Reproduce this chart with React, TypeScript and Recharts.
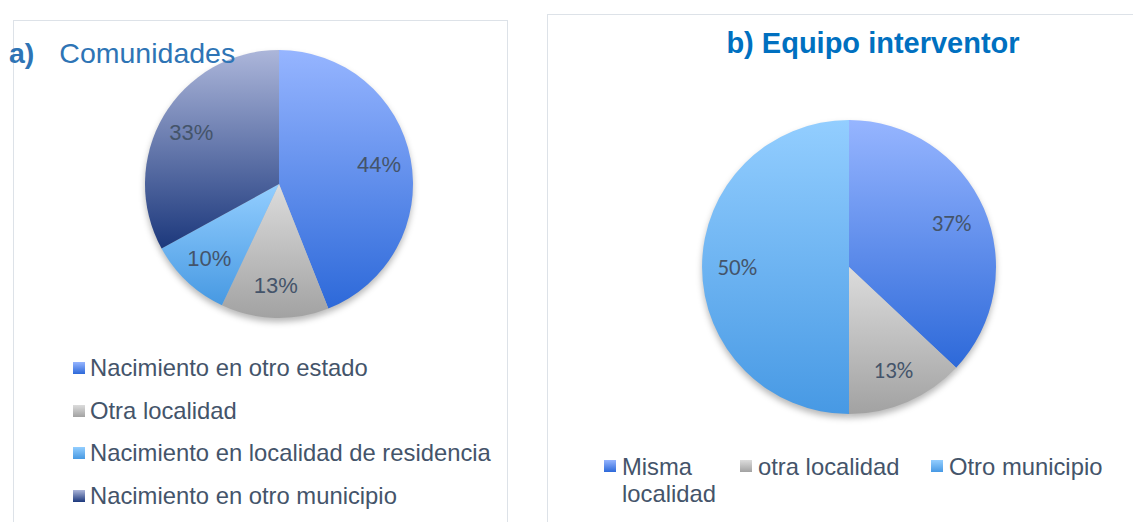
import { Cell, Legend, Pie, PieChart } from "recharts";

// a) Comunidades
const comunidadesNames = [
  "Nacimiento en otro estado",
  "Otra localidad",
  "Nacimiento en localidad de residencia",
  "Nacimiento en otro municipio",
];
const comunidadesValues = [44, 13, 10, 33];

// b) Equipo interventor
const equipoNames = ["Misma localidad", "otra localidad", "Otro municipio"];
const equipoValues = [37, 13, 50];

// gradient stops (top -> bottom) per slice
const gradA = [
  ["#96B5FF", "#2D69D9"],
  ["#DCDCDC", "#A2A2A2"],
  ["#93CEFF", "#4799E2"],
  ["#ACB6DA", "#1C387C"],
];
const gradB = [
  ["#96B5FF", "#2D69D9"],
  ["#DCDCDC", "#A2A2A2"],
  ["#93CEFF", "#4799E4"],
];

const textColor = "#44546A";
const sans = "'Liberation Sans', Arial, sans-serif";

const dataA = comunidadesNames.map((name, i) => ({ name, value: comunidadesValues[i] }));
const dataB = equipoNames.map((name, i) => ({ name, value: equipoValues[i] }));

const RADIAN = Math.PI / 180;

const makeLabel = (font: string, size: number) => (props: any) => {
  const { cx, cy, midAngle, outerRadius, value } = props;
  const r = outerRadius * 0.76;
  const x = cx + r * Math.cos(-midAngle * RADIAN);
  const y = cy + r * Math.sin(-midAngle * RADIAN);
  return (
    <text
      x={x}
      y={y}
      fill={textColor}
      fontFamily={font}
      fontSize={size}
      textAnchor="middle"
      dominantBaseline="central"
    >
      {`${value}%`}
    </text>
  );
};

const Swatch = ({ id }: { id: string }) => (
  <svg width={12} height={12} style={{ flex: "none" }}>
    <rect width={12} height={12} fill={`url(#${id})`} />
  </svg>
);

// legends drawn from the data arrays (the shadow pie would otherwise add entries)
const LegendA = () => (
  <div style={{ fontFamily: sans, fontSize: 23.8, color: textColor }}>
    {dataA.map((d, i) => (
      <div
        key={d.name}
        style={{ display: "flex", alignItems: "center", gap: 5, height: 42.5, lineHeight: "42.5px", whiteSpace: "nowrap" }}
      >
        <Swatch id={`lga${i}`} />
        <span>{d.name}</span>
      </div>
    ))}
  </div>
);

const itemWidthsB = [136, 191, 200];

const LegendB = () => (
  <div style={{ display: "flex", fontFamily: sans, fontSize: 23.8, color: textColor, lineHeight: "27px" }}>
    {dataB.map((d, i) => (
      <div key={d.name} style={{ display: "flex", alignItems: "flex-start", gap: 6, width: itemWidthsB[i], flex: "none" }}>
        <div style={{ marginTop: 7.5, display: "flex" }}>
          <Swatch id={`lgb${i}`} />
        </div>
        <span style={{ width: i === 0 ? 105 : undefined, whiteSpace: i === 0 ? "normal" : "nowrap" }}>
          {d.name}
        </span>
      </div>
    ))}
  </div>
);

const Gradients = ({ prefix, stops }: { prefix: string; stops: string[][] }) => (
  <>
    {stops.map(([top, bottom], i) => (
      <linearGradient key={i} id={`${prefix}${i}`} x1="0" y1="0" x2="0" y2="1">
        <stop offset="0%" stopColor={top} />
        <stop offset="100%" stopColor={bottom} />
      </linearGradient>
    ))}
  </>
);

export default function App() {
  return (
    <div
      style={{
        position: "absolute",
        left: 0,
        top: 0,
        width: 1133,
        height: 522,
        overflow: "hidden",
        background: "#fff",
      }}
    >
      {/* panel frames */}
      <div style={{ position: "absolute", left: 13, top: 20, width: 493, height: 520, border: "1.5px solid #DDE2E8" }} />
      <div style={{ position: "absolute", left: 547, top: 14, width: 600, height: 520, border: "1.5px solid #DDE2E8" }} />

      {/* legend swatch gradients */}
      <svg width={0} height={0} style={{ position: "absolute" }}>
        <defs>
          <Gradients prefix="lga" stops={gradA} />
          <Gradients prefix="lgb" stops={gradB} />
        </defs>
      </svg>

      <div style={{ position: "absolute", left: 0, top: 0 }}>
        <PieChart width={540} height={522} margin={{ top: 0, right: 0, bottom: 0, left: 0 }}>
          <defs>
            <Gradients prefix="ga" stops={gradA} />
            <filter id="shadowA" x="-20%" y="-20%" width="140%" height="140%">
              <feGaussianBlur stdDeviation="3" />
            </filter>
          </defs>
          <Pie
            data={dataA}
            dataKey="value"
            nameKey="name"
            cx={279}
            cy={188}
            outerRadius={134}
            startAngle={90}
            endAngle={-270}
            stroke="none"
            fill="rgba(0,0,0,0.28)"
            legendType="none"
            style={{ filter: "url(#shadowA)" }}
            isAnimationActive={false}
          />
          <Pie
            data={dataA}
            dataKey="value"
            nameKey="name"
            cx={279}
            cy={184}
            outerRadius={134}
            startAngle={90}
            endAngle={-270}
            stroke="none"
            labelLine={false}
            label={makeLabel(sans, 22)}
            isAnimationActive={false}
          >
            {dataA.map((d, i) => (
              <Cell key={d.name} fill={`url(#ga${i})`} />
            ))}
          </Pie>
          <Legend
            content={LegendA}
            wrapperStyle={{ position: "absolute", left: 73, top: 347, width: 450, height: "auto" }}
          />
        </PieChart>
      </div>

      <div style={{ position: "absolute", left: 540, top: 0 }}>
        <PieChart width={593} height={522} margin={{ top: 0, right: 0, bottom: 0, left: 0 }}>
          <defs>
            <Gradients prefix="gb" stops={gradB} />
            <filter id="shadowB" x="-20%" y="-20%" width="140%" height="140%">
              <feGaussianBlur stdDeviation="3" />
            </filter>
          </defs>
          <Pie
            data={dataB}
            dataKey="value"
            nameKey="name"
            cx={309}
            cy={271}
            outerRadius={147}
            startAngle={90}
            endAngle={-270}
            stroke="none"
            fill="rgba(0,0,0,0.28)"
            legendType="none"
            style={{ filter: "url(#shadowB)" }}
            isAnimationActive={false}
          />
          <Pie
            data={dataB}
            dataKey="value"
            nameKey="name"
            cx={309}
            cy={267}
            outerRadius={147}
            startAngle={90}
            endAngle={-270}
            stroke="none"
            labelLine={false}
            label={makeLabel("Carlito, 'Open Sans', sans-serif", 23)}
            isAnimationActive={false}
          >
            {dataB.map((d, i) => (
              <Cell key={d.name} fill={`url(#gb${i})`} />
            ))}
          </Pie>
          <Legend
            content={LegendB}
            wrapperStyle={{ position: "absolute", left: 64, top: 452.5, width: 530, height: "auto" }}
          />
        </PieChart>
      </div>

      {/* titles */}
      <div
        style={{
          position: "absolute",
          left: 9,
          top: 39,
          fontFamily: sans,
          fontSize: 28.5,
          lineHeight: "28px",
          color: "#2E74B5",
          whiteSpace: "nowrap",
        }}
      >
        <b>a)</b>
        <span style={{ marginLeft: 25 }}>Comunidades</span>
      </div>
      <div
        style={{
          position: "absolute",
          left: 547,
          width: 652,
          top: 29,
          textAlign: "center",
          fontFamily: sans,
          fontSize: 29,
          lineHeight: "28px",
          fontWeight: "bold",
          color: "#0070C0",
          whiteSpace: "nowrap",
        }}
      >
        b) Equipo interventor
      </div>
    </div>
  );
}
